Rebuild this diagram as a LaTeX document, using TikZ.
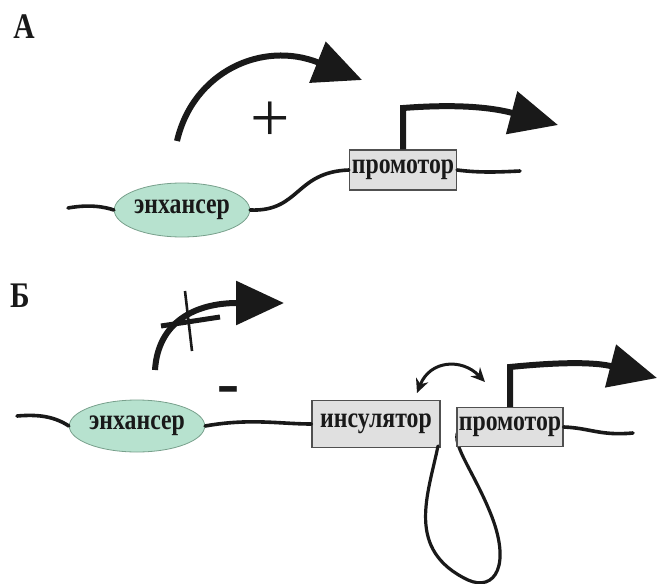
\documentclass[tikz,border=0pt]{standalone}
\usepackage{fontspec}
\setmainfont{Liberation Serif}[FakeStretch=0.82]
\newfontfamily\plainserif{Liberation Serif}
\newfontfamily\sansbold{Liberation Sans}[BoldFont=*]
\usetikzlibrary{arrows.meta,shapes.geometric}
\definecolor{mint}{RGB}{183,226,207}
\definecolor{mintedge}{RGB}{120,160,140}
\definecolor{boxfill}{RGB}{224,224,224}
\definecolor{boxedge}{RGB}{80,80,80}
\definecolor{ink}{RGB}{25,25,25}
\tikzset{
  dna/.style={line width=3.6pt, ink, line cap=round},
  enh/.style={ellipse, draw=mintedge, line width=0.8pt, fill=mint, inner sep=0pt,
    minimum width=130pt, minimum height=54pt, font=\fontsize{29}{29}\bfseries, text=ink},
  gbox/.style={rectangle, draw=boxedge, line width=1.3pt, fill=boxfill, inner sep=0pt,
    font=\fontsize{29}{29}\bfseries, text=ink},
  bigarrow/.style={line width=6pt, ink, line join=miter,
    -{Triangle[length=48pt,width=43pt]}},
  dblarrow/.style={line width=3pt, ink,
    {Stealth[length=14pt,width=13pt]}-{Stealth[length=14pt,width=13pt]}},
  panel/.style={font=\fontsize{36}{36}\bfseries, text=ink, inner sep=0pt},
}
\begin{document}
\begin{tikzpicture}[x=1pt,y=-1pt]
\useasboundingbox (0,0) rectangle (657,584);

% ---------------- Panel A ----------------
\node[panel] (labA) at (24,27) {А};

\coordinate (aL) at (68,208);
\coordinate (aR) at (520,171);
\node[enh] (eA) at (182,210) {энхансер};
\node[gbox, minimum width=107pt, minimum height=40pt] (pA) at (403,170) {промотор};

\draw[dna] (aL) .. controls (90,204) and (105,207) .. (eA.west);
\draw[dna] (eA.east) .. controls (300,212) and (295,172) .. (pA.west);
\draw[dna] (pA.east) .. controls (480,173) and (500,172) .. (aR);

\coordinate (a1s) at (177,141);
\coordinate (a1e) at (362,80);
\draw[bigarrow] (a1s) .. controls (193,72) and (262,40) .. (a1e);

\node[font=\plainserif\fontsize{70}{70}\selectfont, text=ink, inner sep=0pt] (plus) at (270,122) {+};

\coordinate (pAtop) at (403,108);
\coordinate (pAend) at (558,125);
\draw[bigarrow] (pA.north) -- (pAtop) .. controls (455,104) and (490,107) .. (pAend);

% ---------------- Panel B ----------------
\node[panel] (labB) at (20,296) {Б};

\coordinate (bL) at (17,416);
\coordinate (bR) at (633,433);
\node[enh, minimum width=132pt, minimum height=52pt] (eB) at (137,426) {энхансер};
\node[gbox, minimum width=128pt, minimum height=47pt] (ins) at (376,424) {инсулятор};

% loop (drawn beneath the boxes)
\coordinate (lp1) at (438,446);
\coordinate (lp2) at (460,429);
\draw[dna, line width=3.2pt] (lp1) .. controls (428,495) and (405,550) .. (468,580)
  .. controls (495,592) and (512,565) .. (490,512)
  .. controls (472,468) and (448,440) .. (lp2);

\node[gbox, minimum width=106pt, minimum height=39pt] (pB) at (510,427) {промотор};

\draw[dna] (bL) .. controls (40,414) and (55,417) .. (eB.west);
\draw[dna] (eB.east) .. controls (250,418) and (280,424) .. (ins.west);
\draw[dna] (pB.east) .. controls (590,428) and (600,436) .. (bR);

% blocked arrow
\coordinate (b1s) at (155,370);
\coordinate (b1e) at (284,303);
\draw[bigarrow] (b1s) .. controls (158,322) and (195,303) .. (b1e);
\coordinate (x1a) at (185,291);
\coordinate (x1b) at (192,351);
\coordinate (x2a) at (161,326);
\coordinate (x2b) at (220,317);
\draw[ink, line width=2.6pt] (x1a) -- (x1b);
\draw[ink, line width=5pt] (x2a) -- (x2b);

\node[font=\sansbold\fontsize{72}{72}\bfseries, text=ink, inner sep=0pt] (minus) at (228,398) {-};

% double arrow between insulator and promoter
\coordinate (d1) at (417,393);
\coordinate (d2) at (485,382);
\draw[dblarrow] (d1) .. controls (430,360) and (462,358) .. (d2);

% promoter arrow B
\coordinate (pBtop) at (510,367);
\coordinate (pBend) at (657,378);
\draw[bigarrow] (pB.north) -- (pBtop) .. controls (560,362) and (595,362) .. (pBend);
\end{tikzpicture}
\end{document}
